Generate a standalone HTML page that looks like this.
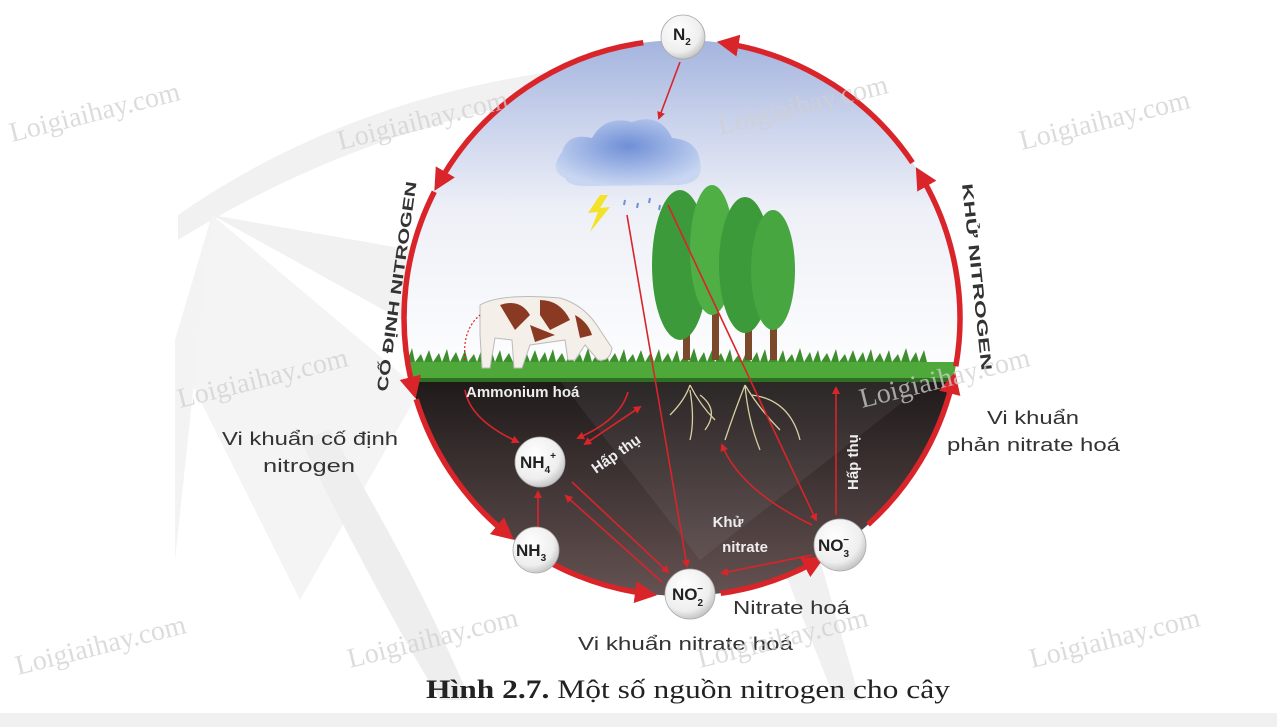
<!DOCTYPE html>
<html><head><meta charset="utf-8"><style>
html,body{margin:0;padding:0;background:#fff;}
svg{display:block;}
.s{font-family:"Liberation Sans",sans-serif;}
.r{font-family:"Liberation Serif",serif;}
</style></head><body>
<svg width="1277" height="727" viewBox="0 0 1277 727" xmlns="http://www.w3.org/2000/svg">
<defs>
<linearGradient id="sky" x1="0" y1="0" x2="0" y2="1">
<stop offset="0" stop-color="#9fb0dc"/><stop offset="0.25" stop-color="#c9d2ec"/><stop offset="0.5" stop-color="#eef0f7"/><stop offset="1" stop-color="#ffffff"/>
</linearGradient>
<linearGradient id="soil" x1="0" y1="0" x2="0" y2="1">
<stop offset="0" stop-color="#1f1a1a"/><stop offset="1" stop-color="#6a5656"/>
</linearGradient>
<radialGradient id="ball" cx="0.4" cy="0.35" r="0.7">
<stop offset="0" stop-color="#ffffff"/><stop offset="0.7" stop-color="#eeeeee"/><stop offset="1" stop-color="#bdbdbd"/>
</radialGradient>
<radialGradient id="cloud" cx="0.5" cy="0.4" r="0.6">
<stop offset="0" stop-color="#6f8fd6"/><stop offset="1" stop-color="#c8d6f2"/>
</radialGradient>
<clipPath id="circ"><circle cx="682" cy="318" r="278"/></clipPath>
<marker id="big" markerWidth="4" markerHeight="4" refX="1.5" refY="2" orient="auto" markerUnits="strokeWidth">
<path d="M0,0 L4,2 L0,4 Z" fill="#d9242a"/></marker>
<marker id="sm" markerWidth="8" markerHeight="8" refX="6" refY="4" orient="auto" markerUnits="userSpaceOnUse">
<path d="M0,0 L8,4 L0,8 Z" fill="#d9242a"/></marker>
</defs>

<path d="M178,215 Q400,60 720,60 L720,80 Q420,90 178,240 Z" fill="#f1f1f1"/>
<polygon points="212,215 420,390 300,600 175,350" fill="#f4f4f4"/>
<polygon points="212,215 640,290 420,330" fill="#f1f1f1"/>
<polygon points="212,215 175,340 175,560" fill="#f3f3f3"/>
<path d="M300,440 Q380,600 440,700 L470,700 Q420,580 330,430 Z" fill="#eeeeee"/>
<path d="M780,560 L835,700 L860,700 L820,560 Z" fill="#f0f0f0"/>

<g clip-path="url(#circ)">
<rect x="400" y="30" width="570" height="360" fill="url(#sky)"/>
<rect x="400" y="381" width="570" height="230" fill="url(#soil)"/>
<polygon points="560,381 930,381 700,560" fill="#ffffff" opacity="0.06"/>
<rect x="400" y="362" width="570" height="20" fill="#4fa83a"/>
<path d="M400,362 l4,-10 l3,10 l5,-14 l3,14 l6,-8 l3,8 l5,-12 l4,12 l6,-9 l3,9 l5,-13 l3,13 l6,-10 l4,10 l5,-12 l3,12 l6,-8 l3,8 l5,-14 l4,14 l6,-10 l3,10 l5,-12 l3,12 l6,-9 l4,9 l5,-13 l3,13 l6,-8 l3,8 l5,-12 l4,12 l6,-10 l3,10 l5,-13 l3,13 l6,-9 l4,9 l5,-12 l3,12 l6,-8 l3,8 l5,-14 l4,14 l6,-10 l3,10 l5,-12 l3,12 l6,-9 l4,9 l5,-13 l3,13 l6,-8 l3,8 l5,-12 l4,12 l6,-10 l3,10 l5,-13 l3,13 l6,-9 l4,9 l5,-12 l3,12 l6,-8 l3,8 l5,-14 l4,14 l6,-10 l3,10 l5,-12 l3,12 l6,-9 l4,9 l5,-13 l3,13 l6,-8 l3,8 l5,-12 l4,12 l6,-10 l3,10 l5,-13 l3,13 l6,-9 l4,9 l5,-12 l3,12 l6,-8 l3,8 l5,-14 l4,14 l6,-10 l3,10 l5,-12 l3,12 l6,-9 l4,9 l5,-13 l3,13 l6,-8 l3,8 l5,-12 l4,12 l6,-10 l3,10 l5,-13 l3,13 l6,-9 l4,9 l5,-12 l3,12 l6,-8 l3,8 l5,-14 l4,14 l6,-10 l3,10 l5,-12 l3,12 L970,362 Z" fill="#3d8f2e"/>
<rect x="400" y="378" width="570" height="4" fill="#2e6e22"/>
</g>

<rect x="683" y="290" width="7" height="70" fill="#7a4a2a"/>
<rect x="712" y="280" width="7" height="80" fill="#7a4a2a"/>
<rect x="745" y="295" width="7" height="65" fill="#7a4a2a"/>
<rect x="770" y="290" width="7" height="70" fill="#7a4a2a"/>
<ellipse cx="680" cy="265" rx="28" ry="75" fill="#3c9a3a"/>
<ellipse cx="712" cy="250" rx="22" ry="65" fill="#4fae44"/>
<ellipse cx="745" cy="265" rx="26" ry="68" fill="#3c9a3a"/>
<ellipse cx="773" cy="270" rx="22" ry="60" fill="#47a640"/>
<path d="M480,305 Q500,293 560,298 Q585,305 600,330 L612,348 Q610,362 598,360 L585,345 L575,360 L568,360 L565,340 L530,345 L522,368 L514,368 L512,340 L495,338 L490,368 L482,368 L480,335 Z" fill="#f4efe9" stroke="#bbb" stroke-width="1"/>
<path d="M500,305 Q520,298 530,315 L515,330 Z M540,300 Q560,300 570,320 L550,330 L540,315 Z M530,325 L555,335 L535,342 Z M575,315 Q588,322 592,335 L580,338 Z" fill="#8a3a22"/>
<path d="M465,360 Q462,330 480,315" fill="none" stroke="#d9242a" stroke-width="1.2" stroke-dasharray="2,2"/>
<path d="M565,178 Q548,170 562,152 Q568,132 592,138 Q605,115 632,122 Q660,112 672,138 Q698,140 700,162 Q705,182 680,185 L585,186 Q568,186 565,178 Z" fill="url(#cloud)"/>
<polygon points="600,195 588,213 598,212 590,232 610,207 600,208 608,195" fill="#f3e22a"/>
<path d="M625,200 l-1,5 M638,203 l-1,5 M650,198 l-1,5 M660,205 l-1,5" stroke="#6f8fd6" stroke-width="2"/>
<path d="M690,385 Q685,400 670,415 M690,385 Q700,405 715,420 M690,390 Q695,420 690,440 M745,385 Q735,410 725,440 M745,385 Q760,410 780,430 M745,385 Q748,420 760,450 M752,395 Q790,400 800,440 M700,395 Q720,410 705,430" fill="none" stroke="#d9cfa0" stroke-width="1.3"/>

<g fill="none" stroke="#d9242a" stroke-width="5.5" marker-end="url(#big)">
<path d="M643.3,42.7 A278,278 0 0 0 441.2,179"/>
<path d="M434.3,191.8 A278,278 0 0 0 412.3,385.3"/>
<path d="M416.2,399.2 A278,278 0 0 0 503.3,531"/>
<path d="M518.6,542.9 A278,278 0 0 0 643.3,593.3"/>
<path d="M720.7,593.3 A278,278 0 0 0 812.4,563.5"/>
<path d="M868,524.6 A278,278 0 0 0 951.7,385.3"/>
<path d="M955.8,366.3 A278,278 0 0 0 922.7,179"/>
<path d="M912.5,162.6 A278,278 0 0 0 730.3,44.2"/>
</g>

<g fill="none" stroke="#d9242a" stroke-width="1.6" marker-end="url(#sm)">
<line x1="680" y1="62" x2="659" y2="118"/>
<line x1="627" y1="215" x2="687" y2="566"/>
<line x1="668" y1="205" x2="816" y2="520"/>
<line x1="538" y1="527" x2="538" y2="492"/>
<line x1="572" y1="482" x2="668" y2="572"/>
<line x1="662" y1="582" x2="566" y2="496"/>
<line x1="812" y1="555" x2="722" y2="573"/>
<line x1="836" y1="515" x2="836" y2="388"/>
<path d="M812,525 Q740,490 722,445"/>
<path d="M465,390 Q470,420 518,442"/>
<path d="M628,392 Q620,420 578,438"/>
<line x1="585" y1="444" x2="640" y2="407"/>
<line x1="640" y1="407" x2="585" y2="444"/>
</g>

<g stroke="#aaa" stroke-width="0.8">
<circle cx="683" cy="37" r="22" fill="url(#ball)"/>
<circle cx="540" cy="462" r="25" fill="url(#ball)"/>
<circle cx="536" cy="550" r="23" fill="url(#ball)"/>
<circle cx="690" cy="594" r="25" fill="url(#ball)"/>
<circle cx="840" cy="545" r="26" fill="url(#ball)"/>
</g>
<g class="s" font-weight="bold" fill="#222" font-size="17">
<text x="673" y="40">N<tspan font-size="10" dy="5">2</tspan></text>
<text x="520" y="468">NH<tspan font-size="10" dy="5">4</tspan><tspan font-size="10" dy="-14">+</tspan></text>
<text x="516" y="556">NH<tspan font-size="10" dy="5">3</tspan></text>
<text x="672" y="600">NO<tspan font-size="10" dy="6">2</tspan><tspan font-size="10" dy="-14" dx="-6">−</tspan></text>
<text x="818" y="551">NO<tspan font-size="10" dy="6">3</tspan><tspan font-size="10" dy="-14" dx="-6">−</tspan></text>
</g>

<g class="s" fill="#eeeeee" font-weight="bold" font-size="15">
<text x="466" y="397">Ammonium hoá</text>
<text x="728" y="527" text-anchor="middle">Khử</text>
<text x="745" y="552" text-anchor="middle">nitrate</text>
<text transform="translate(596,474) rotate(-35)">Hấp thụ</text>
<text transform="translate(858,490) rotate(-90)">Hấp thụ</text>
</g>

<g class="s" fill="#333" font-size="18">
<text x="222" y="445" textLength="176" lengthAdjust="spacingAndGlyphs">Vi khuẩn cố định</text>
<text x="263" y="472" textLength="92" lengthAdjust="spacingAndGlyphs">nitrogen</text>
<text x="987" y="424" textLength="92" lengthAdjust="spacingAndGlyphs">Vi khuẩn</text>
<text x="947" y="451" textLength="173" lengthAdjust="spacingAndGlyphs">phản nitrate hoá</text>
<text x="733" y="614" textLength="117" lengthAdjust="spacingAndGlyphs">Nitrate hoá</text>
<text x="578" y="650" textLength="215" lengthAdjust="spacingAndGlyphs">Vi khuẩn nitrate hoá</text>
</g>
<text class="s" transform="translate(387,392) rotate(-82)" fill="#333" font-size="15" font-weight="bold" textLength="212" lengthAdjust="spacingAndGlyphs">CỐ ĐỊNH NITROGEN</text>
<text class="s" transform="translate(962,184) rotate(84)" fill="#333" font-size="15" font-weight="bold" textLength="188" lengthAdjust="spacingAndGlyphs">KHỬ NITROGEN</text>

<g class="r" fill="#d0d0d0" font-size="28" opacity="0.75">
<text transform="translate(12,142) rotate(-14)">Loigiaihay.com</text>
<text transform="translate(340,150) rotate(-14)">Loigiaihay.com</text>
<text transform="translate(720,135) rotate(-14)">Loigiaihay.com</text>
<text transform="translate(1022,150) rotate(-14)">Loigiaihay.com</text>
<text transform="translate(180,408) rotate(-14)">Loigiaihay.com</text>
<text transform="translate(862,408) rotate(-14)">Loigiaihay.com</text>
<text transform="translate(18,675) rotate(-14)">Loigiaihay.com</text>
<text transform="translate(350,668) rotate(-14)">Loigiaihay.com</text>
<text transform="translate(700,668) rotate(-14)">Loigiaihay.com</text>
<text transform="translate(1032,668) rotate(-14)">Loigiaihay.com</text>
</g>

<text class="r" x="426" y="698" font-size="26" fill="#222" textLength="524" lengthAdjust="spacingAndGlyphs"><tspan font-weight="bold">Hình 2.7.</tspan> Một số nguồn nitrogen cho cây</text>
<rect x="0" y="713" width="1277" height="14" fill="#f0f0f0"/>
</svg>
</body></html>
